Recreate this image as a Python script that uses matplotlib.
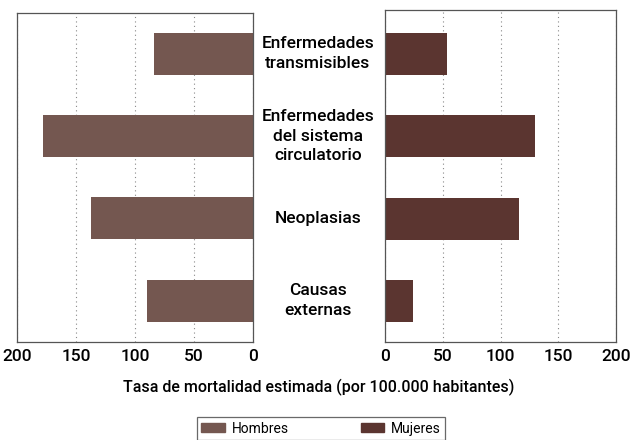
import matplotlib.pyplot as plt
from matplotlib.patches import Patch

plt.rcParams['font.family'] = ['Roboto', 'DejaVu Sans']

causas = ['Enfermedades\ntransmisibles', 'Enfermedades\ndel sistema\ncirculatorio',
          'Neoplasias', 'Causas\nexternas']
hombres = [84, 178, 137, 90]
mujeres = [54, 130, 116, 24]
ticks = [0, 50, 100, 150, 200]

c_hom = '#745750'
c_muj = '#5b3530'

fig = plt.figure(figsize=(6.32, 4.4), dpi=100)
ax_h = fig.add_axes([0.027, 0.223, 0.373, 0.748])
ax_m = fig.add_axes([0.609, 0.223, 0.366, 0.754])

ypos = range(len(causas))
ax_h.barh(ypos, hombres, height=0.51, color=c_hom, zorder=2)
ax_m.barh(ypos, mujeres, height=0.51, color=c_muj, zorder=2)

ax_h.set_ylim(len(causas) - 0.5, -0.5)
ax_m.set_ylim(len(causas) - 0.5, -0.537)

for ax in (ax_h, ax_m):
    ax.set_xlim(0, 200)
    ax.set_xticks(ticks)
    ax.set_yticks([])
    ax.grid(axis='x', linestyle=(0, (1, 3)), color='#888888', linewidth=0.8, zorder=0)
    ax.tick_params(axis='x', length=0, labelsize=12.5, pad=5)
    for lbl in ax.get_xticklabels():
        lbl.set_fontweight('medium')
    for s in ax.spines.values():
        s.set_color('#555555')
        s.set_linewidth(0.9)

ax_h.invert_xaxis()

# category names between the two panels
for i, name in enumerate(causas):
    y = ax_h.transData.transform((0, i))[1]
    yf = fig.transFigure.inverted().transform((0, y))[1]
    fig.text(0.503, yf, name, ha='center', va='center', fontsize=12.5,
             fontweight='medium', linespacing=1.4)

fig.text(0.505, 0.12, 'Tasa de mortalidad estimada (por 100.000 habitantes)',
         ha='center', va='center', fontsize=11.5, fontweight='medium')

handles = [Patch(color=c_hom, label='Hombres'), Patch(color=c_muj, label='Mujeres')]
leg = fig.legend(handles=handles, loc='center', bbox_to_anchor=(0.508, 0.026),
                 ncol=2, fontsize=10, frameon=True, fancybox=False,
                 handlelength=1.7, handleheight=0.6, columnspacing=5.2,
                 borderpad=0.3, handletextpad=0.5)
leg.get_frame().set_edgecolor('#444444')
leg.get_frame().set_linewidth(0.9)

fig.savefig('out.png', dpi=100)
